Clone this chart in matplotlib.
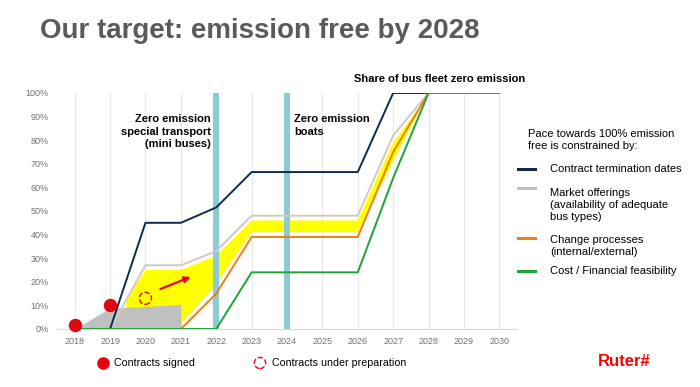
import matplotlib
matplotlib.use("Agg")
import matplotlib.pyplot as plt

plt.rcParams['font.family'] = ['Liberation Sans', 'DejaVu Sans']

years = list(range(2018, 2031))
tick_labels = [str(y) for y in years]

# constraint lines (share of bus fleet, %)
navy_x = [2019, 2020, 2021, 2022, 2023, 2026, 2027, 2028]
navy_y = [0, 45, 45, 51.5, 66.5, 66.5, 100, 100]
market_x = [2019, 2020, 2021, 2022, 2023, 2026, 2027, 2028]
market_y = [0, 27, 27, 33, 48, 48, 82, 100]
change_x = [2021, 2022, 2023, 2026, 2027, 2028]
change_y = [0, 15, 39, 39, 75, 100]
cost_x = [2018, 2022, 2023, 2026, 2027, 2028, 2030]
cost_y = [0, 0, 24, 24, 64, 100, 100]

# yellow target band
band_upper_x = [2019.45, 2020, 2021, 2022, 2023, 2026, 2027, 2027.9]
band_upper_y = [12, 25, 25, 31, 46, 46, 79, 97]
band_lower_x = [2027.9, 2027, 2026, 2023, 2022, 2021, 2019.5]
band_lower_y = [97, 71, 41, 41, 19, 2, 2]

# grey area: existing contracts
grey_x = [2018, 2019, 2020, 2021]
grey_y = [0, 9, 9.5, 10.5]

signed_x = [2018, 2019]
signed_y = [1.5, 10]
prep_x = [2020]
prep_y = [13]

teal_years = [2022, 2024]

fig = plt.figure(figsize=(7, 3.87), dpi=100)
ax = fig.add_axes([57 / 700, 58 / 387, 460 / 700, 236 / 387])

ax.set_xlim(2017.5, 2030.5)
ax.set_ylim(0, 100)

for y in years:
    ax.plot([y, y], [0, 100], color='#e8e8e8', lw=0.8, zorder=0)

ax.fill(band_upper_x + band_lower_x, band_upper_y + band_lower_y,
        color='#ffff00', lw=0, zorder=1)
ax.fill_between(grey_x, 0, grey_y, color='#c0c0c0', lw=0, zorder=2)

for ty in teal_years:
    ax.axvspan(ty - 0.08, ty + 0.08, ymin=0, ymax=1, color='#8ccbd3', lw=0, zorder=3)

ax.plot(market_x, market_y, color='#d3c9c1', lw=1.4, zorder=4)
ax.plot(navy_x, navy_y, color='#0e2b4c', lw=1.4, zorder=5)
ax.plot(change_x, change_y, color='#f07d1a', lw=1.4, zorder=5)
ax.plot(cost_x, cost_y, color='#1fa336', lw=1.4, zorder=6)

ax.scatter(signed_x, signed_y, s=75, color='#e30613', zorder=8, clip_on=False)
ax.scatter(prep_x, prep_y, s=75, facecolors='none', edgecolors='#e30613',
           linestyles='--', linewidths=1, zorder=8)
ax.annotate('', xy=(2021.35, 22.5), xytext=(2020.35, 16.5),
            arrowprops=dict(arrowstyle='-|>', color='#e30613', lw=1.6,
                            mutation_scale=9), zorder=8)

ax.set_xticks(years)
ax.set_xticklabels(tick_labels)
ax.set_yticks(range(0, 101, 10))
ax.set_yticklabels([f'{v}%' for v in range(0, 101, 10)])
ax.tick_params(axis='both', length=0, labelsize=6.5, labelcolor='#707070', pad=6)
for s in ['top', 'right', 'left']:
    ax.spines[s].set_visible(False)
ax.spines['bottom'].set_color('#d9d9d9')

ax.text(2021.85, 91, 'Zero emission\nspecial transport\n(mini buses)', ha='right', va='top',
        fontsize=8, fontweight='bold', linespacing=1.3, zorder=9)
ax.text(2024.2, 91, 'Zero emission\nboats', ha='left', va='top',
        fontsize=8, fontweight='bold', linespacing=1.3, zorder=9)

# overlay in pixel coordinates for titles and legends
ov = fig.add_axes([0, 0, 1, 1], facecolor='none')
ov.set_xlim(0, 700)
ov.set_ylim(387, 0)
ov.axis('off')

ov.text(40, 31, 'Our target: emission free by 2028', fontsize=20, fontweight='bold',
        color='#5a5a5a', va='center', ha='left')
ov.text(354, 79, 'Share of bus fleet zero emission', fontsize=8, fontweight='bold',
        va='center', ha='left')

ov.text(528, 140, 'Pace towards 100% emission\nfree is constrained by:', fontsize=8,
        va='center', ha='left', linespacing=1.3)
legend_items = [
    ('Contract termination dates', '#0e2b4c', 169, 169),
    ('Market offerings\n(availability of adequate\nbus types)', '#c0c0c0', 188, 205),
    ('Change processes\n(internal/external)', '#f07d1a', 238, 246),
    ('Cost / Financial feasibility', '#1fa336', 271, 271),
]
for label, color, ly, ty in legend_items:
    ov.plot([518, 535], [ly, ly], color=color, lw=2.2)
    ov.text(550, ty, label, fontsize=8, va='center', ha='left', linespacing=1.3)

ov.scatter([103], [363], s=65, color='#e30613')
ov.text(114, 363, 'Contracts signed', fontsize=7.7, va='center', ha='left')
ov.scatter([260], [363], s=65, facecolors='none', edgecolors='#e30613',
           linestyles='--', linewidths=1)
ov.text(272, 363, 'Contracts under preparation', fontsize=7.7, va='center', ha='left')

ov.text(598, 362, 'Ruter#', fontsize=12, fontweight='bold', color='#ff0000',
        va='center', ha='left')

fig.savefig('out.png', dpi=100)
